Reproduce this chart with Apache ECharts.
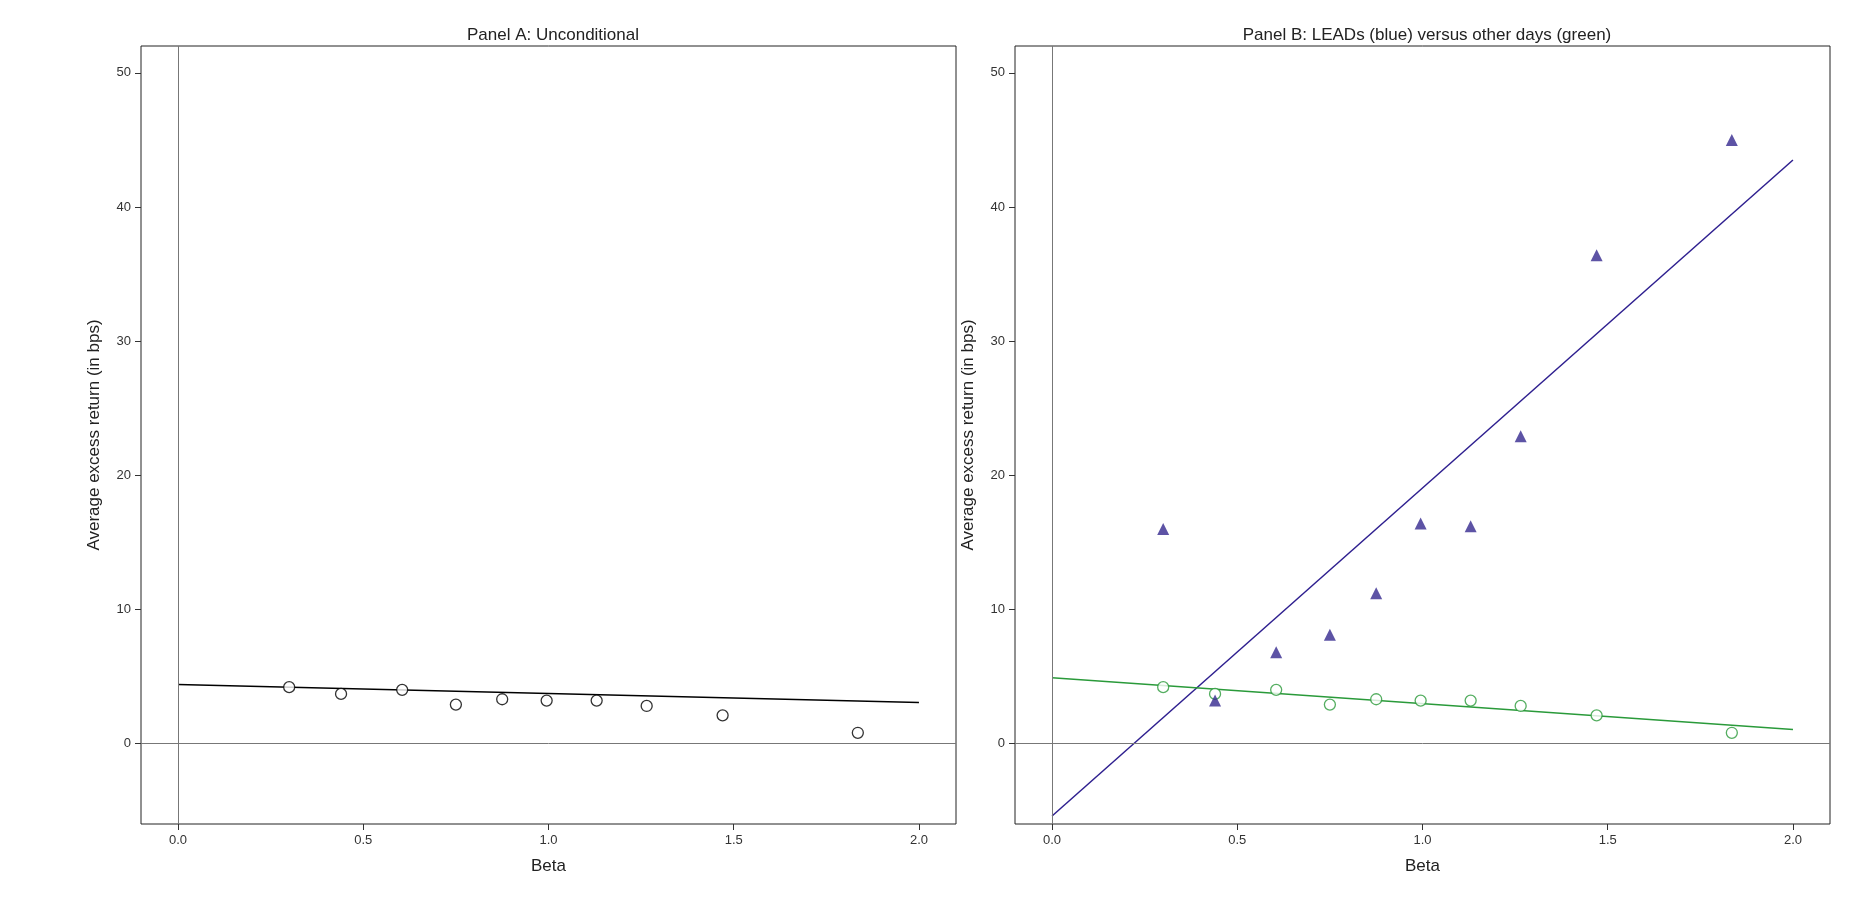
<!DOCTYPE html>
<html lang="en">
<head>
<meta charset="UTF-8">
<title>Beta vs average excess return</title>
<script src="https://cdn.jsdelivr.net/npm/echarts@6.0.0/dist/echarts.min.js"></script>
<style>
    html, body { margin: 0; padding: 0; background: #fff; }
    #chart { width: 1855px; height: 897px; }
</style>
</head>
<body>
<div id="chart"></div>
<script>
    // portfolio betas and average excess returns (bps)
    const betas = [0.30, 0.44, 0.605, 0.75, 0.875, 0.995, 1.13, 1.265, 1.47, 1.835];
    const uncond = [4.2, 3.7, 4.0, 2.9, 3.3, 3.2, 3.2, 2.8, 2.1, 0.8];
    const otherDays = [4.2, 3.7, 4.0, 2.9, 3.3, 3.2, 3.2, 2.8, 2.1, 0.8];
    const leads = [16.0, 3.2, 6.8, 8.1, 11.2, 16.4, 16.2, 22.9, 36.4, 45.0];
    // fitted lines, endpoints at beta 0 and 2
    const fitUncond = [[0, 4.4], [2, 3.05]];
    const fitOther = [[0, 4.9], [2, 1.05]];
    const fitLeads = [[0, -5.4], [2, 43.5]];
    const xTicks = [0, 0.5, 1, 1.5, 2];
    const yTicks = [0, 10, 20, 30, 40, 50];

    const font = 'Liberation Sans, Arial, sans-serif';
    const pts = ys => betas.map((b, i) => [b, ys[i]]);

    function xAxis(idx) {
        return {
            gridIndex: idx, type: 'value', min: -0.1, max: 2.1,
            name: 'Beta', nameLocation: 'middle', nameGap: 34,
            nameTextStyle: { fontSize: 17, color: '#222', fontFamily: font },
            axisLine: { show: false, onZero: false }, splitLine: { show: false },
            axisTick: { show: true, customValues: xTicks, length: 6, lineStyle: { color: '#333' } },
            axisLabel: { customValues: xTicks, fontSize: 13, color: '#333', fontFamily: font, margin: 10,
                formatter: v => v.toFixed(1) }
        };
    }
    function yAxis(idx) {
        return {
            gridIndex: idx, type: 'value', min: -6, max: 52,
            name: 'Average excess return (in bps)', nameLocation: 'middle', nameGap: 38,
            nameTextStyle: { fontSize: 17, color: '#222', fontFamily: font },
            axisLine: { show: false, onZero: false }, splitLine: { show: false },
            axisTick: { show: true, customValues: yTicks, length: 6, lineStyle: { color: '#333' } },
            axisLabel: { customValues: yTicks, fontSize: 13, color: '#333', fontFamily: font, margin: 10 }
        };
    }
    function refLines(idx) {
        return {
            type: 'line', xAxisIndex: idx, yAxisIndex: idx, data: [], silent: true,
            markLine: {
                symbol: 'none', silent: true, label: { show: false },
                lineStyle: { color: '#777', width: 1, type: 'solid' },
                data: [{ xAxis: 0 }, { yAxis: 0 }]
            }
        };
    }
    function fit(idx, data, color) {
        return { type: 'line', xAxisIndex: idx, yAxisIndex: idx, data: data, symbol: 'none',
            lineStyle: { color: color, width: 1.5 }, silent: true, z: 3 };
    }
    function scatter(idx, data, color, symbol, filled) {
        return { type: 'scatter', xAxisIndex: idx, yAxisIndex: idx, data: data,
            symbol: symbol, symbolSize: symbol === 'triangle' ? 12 : 11,
            itemStyle: filled ? { color: color } : { color: '#fff', borderColor: color, borderWidth: 1.3 },
            z: 4 };
    }

    const chart = echarts.init(document.getElementById('chart'));
    chart.setOption({
        animation: false,
        title: [
            { text: 'Panel A: Unconditional', left: 548, top: 22, textAlign: 'center',
              textStyle: { fontSize: 17, fontWeight: 'normal', color: '#222', fontFamily: font } },
            { text: 'Panel B: LEADs (blue) versus other days (green)', left: 1422, top: 22, textAlign: 'center',
              textStyle: { fontSize: 17, fontWeight: 'normal', color: '#222', fontFamily: font } }
        ],
        grid: [
            { left: 141, top: 46, width: 815, height: 778, show: true, borderColor: '#222', borderWidth: 1 },
            { left: 1015, top: 46, width: 815, height: 778, show: true, borderColor: '#222', borderWidth: 1 }
        ],
        xAxis: [xAxis(0), xAxis(1)],
        yAxis: [yAxis(0), yAxis(1)],
        series: [
            refLines(0),
            fit(0, fitUncond, '#000'),
            scatter(0, pts(uncond), '#000', 'circle', false),
            refLines(1),
            fit(1, fitLeads, '#2e1f8f'),
            fit(1, fitOther, '#2a9a3a'),
            scatter(1, pts(otherDays), '#2a9a3a', 'circle', false),
            scatter(1, pts(leads), '#35288f', 'triangle', true)
        ]
    });
</script>
</body>
</html>
